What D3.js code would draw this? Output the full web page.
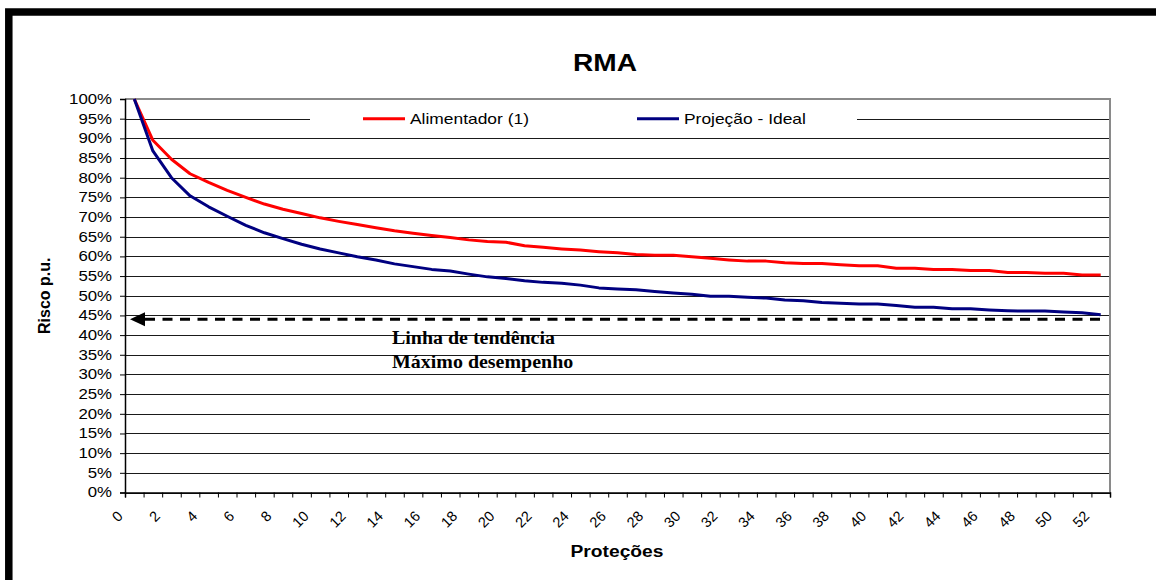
<!DOCTYPE html>
<html>
<head>
<meta charset="utf-8">
<script src="https://cdn.jsdelivr.net/npm/d3@7"></script>
<style>
  body { margin: 0; background: #fff; }
  svg text { font-family: "Liberation Sans", Arial, sans-serif; }
</style>
</head>
<body>
<div id="wrapper"></div>
<script>
// categories (number of protections) and series, in %
const categories = d3.range(0, 53);
const tickLabels = d3.range(0, 53, 2);
const yTicks = d3.range(0, 101, 5);

const alimentador = [100, 89.5, 84.7, 81.0, 78.8, 76.8, 75.0, 73.3, 72.0, 70.9,
    69.8, 68.9, 68.1, 67.3, 66.5, 65.9, 65.3, 64.8, 64.2, 63.8,
    63.6, 62.7, 62.3, 61.9, 61.6, 61.2, 60.9, 60.5, 60.3, 60.3,
    59.9, 59.5, 59.1, 58.8, 58.8, 58.4, 58.2, 58.2, 57.9, 57.6,
    57.6, 57.0, 57.0, 56.7, 56.7, 56.4, 56.4, 55.9, 55.9, 55.7,
    55.7, 55.3, 55.3];
const projecao = [100, 86.8, 80.0, 75.4, 72.6, 70.2, 67.9, 66.0, 64.5, 63.1,
    61.9, 60.9, 59.9, 59.1, 58.1, 57.4, 56.7, 56.3, 55.5, 54.8,
    54.4, 53.8, 53.4, 53.2, 52.7, 52.0, 51.7, 51.5, 51.1, 50.7,
    50.4, 49.9, 49.9, 49.6, 49.4, 48.9, 48.7, 48.3, 48.1, 47.9,
    47.9, 47.5, 47.1, 47.1, 46.7, 46.7, 46.4, 46.2, 46.1, 46.1,
    45.9, 45.7, 45.2];
const seriesNames = ["Alimentador (1)", "Projeção - Ideal"];
const tendencia = 44; // maximo desempenho

const width = 1156
const height = 580
const plot = { left: 125, right: 1110, top: 99, bottom: 492.5 }

// the original picture is a bit wider than tall, so the sans text is stretched
function stretch(sel, k) {
    sel.each(function () {
        const w = this.getComputedTextLength();
        this.setAttribute("textLength", w * k);
        this.setAttribute("lengthAdjust", "spacingAndGlyphs");
    });
}

const svg = d3.select("#wrapper")
    .append("svg")
    .attr("width", width)
    .attr("height", height);

// outer frame (only top and left edges are visible)
svg.append("rect")
    .attr("x", 8.8).attr("y", 12)
    .attr("width", 1300).attr("height", 800)
    .attr("fill", "#fff")
    .attr("stroke", "#000")
    .attr("stroke-width", 7.5);

const x = d3.scaleLinear()
    .domain([-0.5, categories.length - 0.5])
    .range([plot.left, plot.right]);

const y = d3.scaleLinear()
    .domain([0, 100])
    .range([plot.bottom, plot.top]);

// gridlines
svg.append("g")
    .attr("transform", `translate(${plot.left},0)`)
    .call(d3.axisLeft(y).tickValues(yTicks).tickFormat("").tickSize(-(plot.right - plot.left)))
    .call(g => g.select(".domain").remove())
    .call(g => g.selectAll("line").attr("stroke", "#1a1a1a").attr("stroke-width", 1)
        .attr("shape-rendering", "crispEdges"));

// plot border top + right (grey)
svg.append("path")
    .attr("d", `M${plot.left},${plot.top}H${plot.right}V${plot.bottom}`)
    .attr("fill", "none")
    .attr("stroke", "#8a8a8a")
    .attr("stroke-width", 2);

// y axis
const yAxis = svg.append("g")
    .attr("transform", `translate(${plot.left},0)`)
    .call(d3.axisLeft(y).tickValues(yTicks).tickFormat(d => d + "%").tickSize(5).tickPadding(8));
yAxis.select(".domain").attr("stroke", "#000").attr("stroke-width", 1.5);
yAxis.selectAll("line").attr("stroke", "#000");
yAxis.selectAll("text")
    .attr("font-size", "14px")
    .attr("fill", "#000")
    .call(stretch, 1.2);

// x axis: ticks between categories
const xTicks = svg.append("g")
    .attr("transform", `translate(0,${plot.bottom})`)
    .call(d3.axisBottom(x).tickValues(d3.range(-0.5, categories.length, 1)).tickFormat("").tickSize(5));
xTicks.select(".domain").attr("stroke", "#000").attr("stroke-width", 1.5);
xTicks.selectAll("line").attr("stroke", "#000");

// rotated category labels
const xLab = svg.append("g")
    .selectAll("g")
    .data(tickLabels)
    .join("g")
    .attr("transform", d => `translate(${x(d) - 10.5},${plot.bottom + 24.5})`);
xLab.append("text")
    .attr("transform", "rotate(-45)")
    .attr("text-anchor", "end")
    .attr("font-size", "14.5px")
    .attr("fill", "#000")
    .text(d3.format("d"));

// series
const line = d3.line()
    .x((d, i) => x(categories[i]))
    .y(d => y(d));

svg.append("path")
    .datum(alimentador)
    .attr("d", line)
    .attr("fill", "none")
    .attr("stroke", "#ff0000")
    .attr("stroke-width", 3)
    .attr("stroke-linejoin", "round");

svg.append("path")
    .datum(projecao)
    .attr("d", line)
    .attr("fill", "none")
    .attr("stroke", "#000080")
    .attr("stroke-width", 3)
    .attr("stroke-linejoin", "round");

// trend line with arrow
const yT = y(tendencia);
svg.append("line")
    .attr("x1", x(-0.5) + 20).attr("x2", x(categories.length - 0.5) - 3)
    .attr("y1", yT).attr("y2", yT)
    .attr("stroke", "#000")
    .attr("stroke-width", 3)
    .attr("stroke-dasharray", "10,7.5");
svg.append("path")
    .attr("d", `M${x(-0.5) + 5},${yT}L${x(-0.5) + 20},${yT - 7}L${x(-0.5) + 20},${yT + 7}Z`)
    .attr("fill", "#000");

svg.append("text")
    .attr("x", 392).attr("y", 344)
    .style("font-family", "'Liberation Serif', 'Times New Roman', serif")
    .attr("font-weight", "bold")
    .attr("font-size", "19px")
    .text("Linha de tendência")
    .call(stretch, 1.05);
svg.append("text")
    .attr("x", 392).attr("y", 367.5)
    .style("font-family", "'Liberation Serif', 'Times New Roman', serif")
    .attr("font-weight", "bold")
    .attr("font-size", "19px")
    .text("Máximo desempenho")
    .call(stretch, 1.05);

// legend
const legend = svg.append("g");
legend.append("rect")
    .attr("x", 310).attr("y", 102)
    .attr("width", 547).attr("height", 33)
    .attr("fill", "#fff");
const legendItems = [
    { name: seriesNames[0], color: "#ff0000", x: 363 },
    { name: seriesNames[1], color: "#000080", x: 637 },
];
legendItems.forEach(item => {
    legend.append("line")
        .attr("x1", item.x).attr("x2", item.x + 42)
        .attr("y1", y(95)).attr("y2", y(95))
        .attr("stroke", item.color)
        .attr("stroke-width", 3);
    legend.append("text")
        .attr("x", item.x + 47).attr("y", y(95))
        .attr("dy", "0.36em")
        .attr("font-size", "14.5px")
        .text(item.name)
        .call(stretch, 1.2);
});

// titles
svg.append("text")
    .attr("x", 605).attr("y", 70.7)
    .attr("text-anchor", "middle")
    .attr("font-weight", "bold")
    .attr("font-size", "24px")
    .text("RMA")
    .call(stretch, 1.17);

svg.append("text")
    .attr("x", 617).attr("y", 557)
    .attr("text-anchor", "middle")
    .attr("font-weight", "bold")
    .attr("font-size", "16px")
    .text("Proteções")
    .call(stretch, 1.2);

svg.append("text")
    .attr("transform", `translate(50,${(plot.top + plot.bottom) / 2}) rotate(-90)`)
    .attr("text-anchor", "middle")
    .attr("font-weight", "bold")
    .attr("font-size", "16px")
    .text("Risco p.u.");
</script>
</body>
</html>
